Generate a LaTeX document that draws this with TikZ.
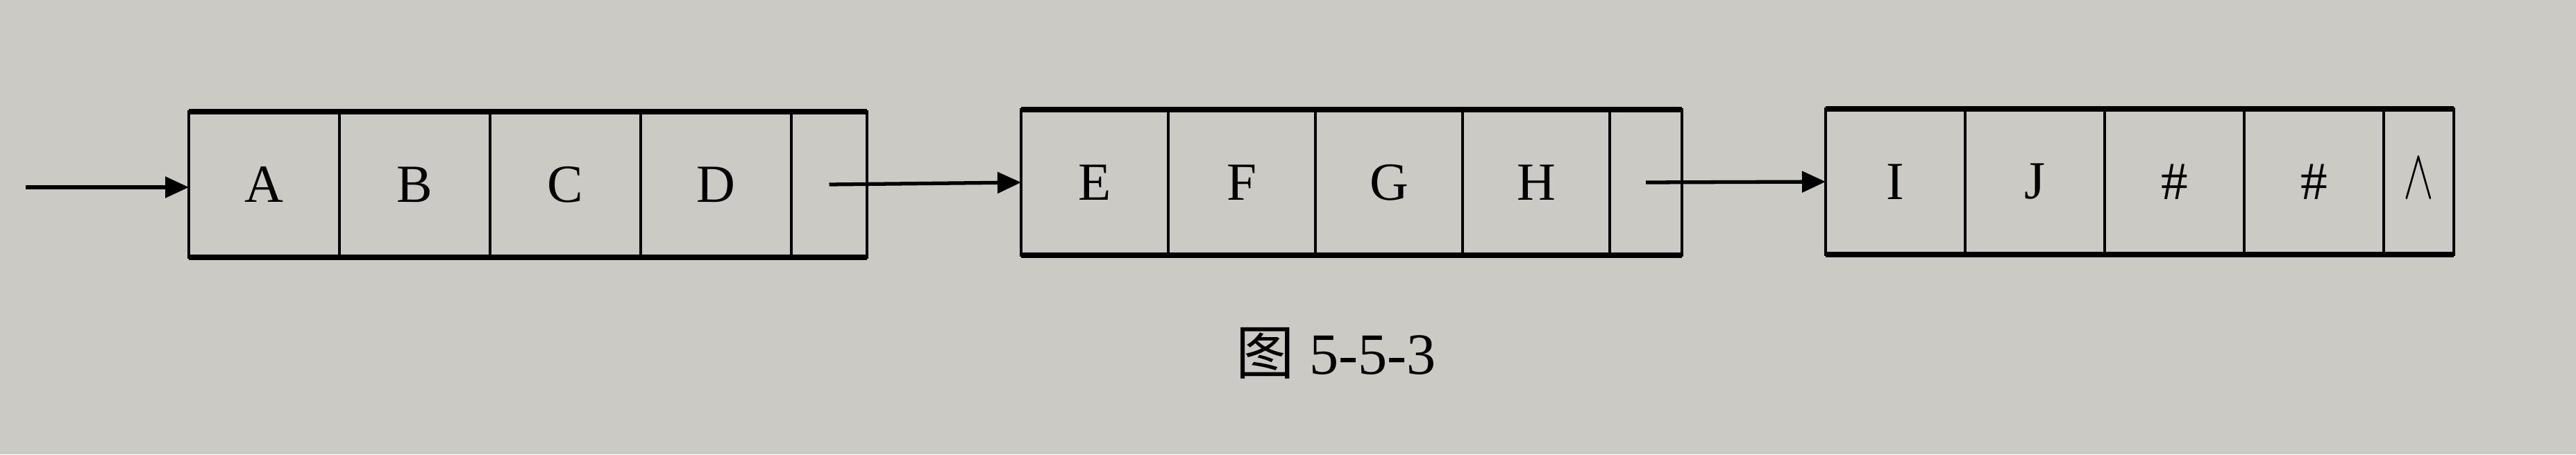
\documentclass[tikz,border=0pt]{standalone}
\usepackage{fontspec}
\setmainfont{Liberation Serif}
\newfontfamily\cjk{Noto Sans CJK SC}
\usetikzlibrary{positioning,arrows.meta}
\definecolor{paper}{RGB}{204,202,197}
\tikzset{
  cell/.style={draw, line width=1.1pt, minimum width=#1, minimum height=2.1cm,
    inner sep=0pt, outer sep=0pt, font=\fontsize{22}{26}\selectfont},
  cell/.default=2.12cm,
  link/.style={line width=1.5pt, -{Triangle[length=0.34cm,width=0.3cm]}},
  rim/.style={line width=2pt}
}
\begin{document}
\begin{tikzpicture}
\fill[paper] (0,0) rectangle (37.11,6.55);
% first block
\node[cell=2.17cm, anchor=west] (a) at (2.72,3.89) {A};
\node[cell=2.17cm, right=0pt of a] (b) {B};
\node[cell=2.17cm, right=0pt of b] (c) {C};
\node[cell=2.17cm, right=0pt of c] (d) {D};
\node[cell=1.09cm, right=0pt of d] (p1) {};
% second block
\node[cell=2.12cm, anchor=west] (e) at (14.71,3.92) {E};
\node[cell=2.12cm, right=0pt of e] (f) {F};
\node[cell=2.12cm, right=0pt of f] (g) {G};
\node[cell=2.12cm, right=0pt of g] (h) {H};
\node[cell=1.04cm, right=0pt of h] (p2) {};
% third block
\node[cell=2.01cm, anchor=west] (i) at (26.30,3.93) {I};
\node[cell=2.01cm, right=0pt of i] (j) {J};
\node[cell=2.01cm, right=0pt of j] (s1) {\#};
\node[cell=2.01cm, right=0pt of s1] (s2) {\#};
\node[cell=1.01cm, right=0pt of s2] (p3) {\raisebox{0.1cm}{\scalebox{0.9}[1.4]{$\wedge$}}};
% heavy top and bottom edges
\draw[rim] (a.north west) -- (p1.north east);
\draw[rim] (a.south west) -- (p1.south east);
\draw[rim] (e.north west) -- (p2.north east);
\draw[rim] (e.south west) -- (p2.south east);
\draw[rim] (i.north west) -- (p3.north east);
\draw[rim] (i.south west) -- (p3.south east);
% pointers
\coordinate (head) at (0.37,3.85);
\draw[link] (head) -- (head -| a.west);
\draw[link] (p1.center) -- (e.west);
\draw[link] (p2.center) -- (i.west);
\node[font=\fontsize{24}{28}\selectfont] (cap) at (19.25,1.46) {{\cjk 图} 5-5-3};
\end{tikzpicture}
\end{document}
